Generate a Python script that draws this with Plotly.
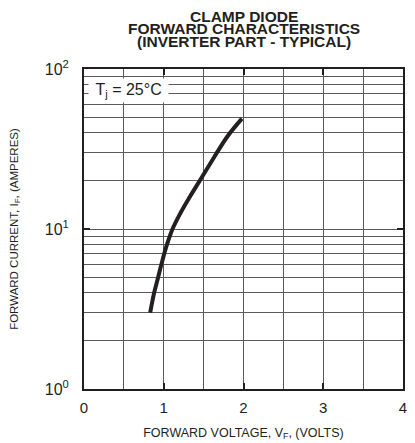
import plotly.graph_objects as go

# Forward voltage (V) and forward current (A)
vf = [0.83, 0.88, 0.93, 0.97, 1.03, 1.11, 1.21, 1.32, 1.45, 1.63, 1.80, 1.98]
i_f = [3.0, 4.0, 5.0, 6.0, 7.7, 10.0, 12.6, 15.7, 20.0, 28.0, 38.0, 49.0]

x_ticks = [0, 1, 2, 3, 4]
x_minor = [0.5, 1.5, 2.5, 3.5]
y_ticks = [1, 10, 100]
y_ticktext = ["10<sup>0</sup>", "10<sup>1</sup>", "10<sup>2</sup>"]
y_minor = [2, 3, 4, 5, 6, 7, 8, 9, 20, 30, 40, 50, 60, 70, 80, 90]

title_lines = ["CLAMP DIODE", "FORWARD CHARACTERISTICS", "(INVERTER PART - TYPICAL)"]

FONT = "Liberation Sans, Arial, sans-serif"
GRID = "#5a5a5a"
INK = "#231f20"

# page body adds an 8px offset; plot area spans 76..395 x 61..381 in figure px
W, H = 407, 435
L, R, T, B = 76, 12, 61, 54
PH = H - T - B

fig = go.Figure()
fig.add_trace(go.Scatter(
    x=vf, y=i_f, mode="lines",
    line=dict(color=INK, width=4, shape="spline", smoothing=1.0),
    showlegend=False, hoverinfo="skip",
))

fig.update_layout(
    width=W, height=H,
    margin=dict(l=L, r=R, t=T, b=B, autoexpand=False),
    paper_bgcolor="white", plot_bgcolor="white",
    font=dict(family=FONT, color=INK),
)

fig.update_xaxes(
    range=[0, 4], tickvals=x_ticks, ticktext=[str(v) for v in x_ticks],
    automargin=False,
    showgrid=True, gridcolor=GRID, gridwidth=1,
    minor=dict(tickvals=x_minor, showgrid=True, gridcolor=GRID, gridwidth=1, ticks=""),
    showline=True, linecolor=INK, linewidth=2, mirror="ticks",
    ticks="inside", ticklen=6, tickwidth=2, tickcolor=INK,
    tickfont=dict(size=15, family=FONT, color=INK),
    ticklabelstandoff=4,
    zeroline=False,
    title=dict(text="FORWARD VOLTAGE, V<sub>F</sub>, (VOLTS)",
               font=dict(size=12.5, family=FONT, color=INK), standoff=13),
)

fig.update_yaxes(
    type="log", range=[0, 2], tickvals=y_ticks, ticktext=y_ticktext,
    automargin=False,
    showgrid=True, gridcolor=GRID, gridwidth=1,
    minor=dict(tickvals=y_minor, showgrid=True, gridcolor=GRID, gridwidth=1, ticks=""),
    showline=True, linecolor=INK, linewidth=2, mirror="ticks",
    ticks="inside", ticklen=6, tickwidth=2, tickcolor=INK,
    tickfont=dict(size=16, family=FONT, color=INK),
    ticklabelstandoff=10,
    zeroline=False,
    title=dict(text="FORWARD CURRENT, I<sub>F</sub>, (AMPERES)",
               font=dict(size=11.5, family=FONT, color=INK), standoff=30),
)

# Title lines (figure-pixel centres converted to paper coords)
for txt, ypx in zip(title_lines, [8.0, 20.5, 33.5]):
    fig.add_annotation(
        text="<b>%s</b>" % txt, xref="paper", yref="paper",
        x=0.5, y=(T + PH - ypx) / PH, xanchor="center", yanchor="middle",
        showarrow=False, font=dict(size=15.5, family=FONT, color=INK),
    )

fig.add_annotation(
    text="&nbsp;T<sub>j</sub> = 25°C&nbsp;", xref="paper", yref="paper",
    x=0.012, y=(T + PH - 82.5) / PH, xanchor="left", yanchor="middle",
    showarrow=False, bgcolor="white", borderpad=2,
    font=dict(size=16, family=FONT, color=INK),
)

fig.write_html("out.html")
